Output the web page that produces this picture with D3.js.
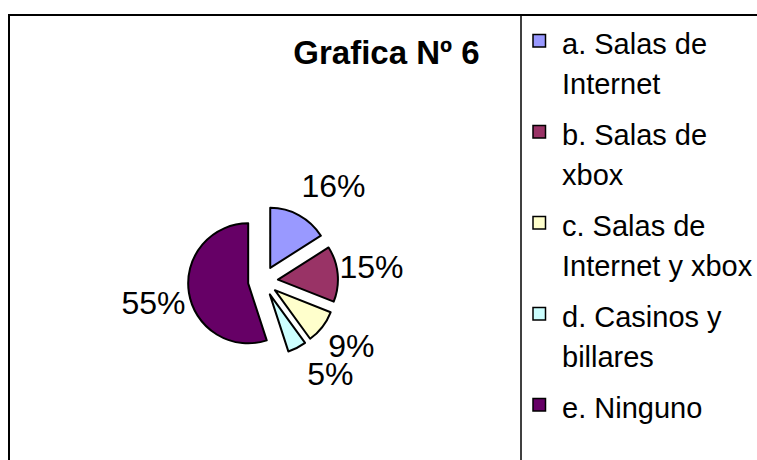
<!DOCTYPE html>
<html>
<head>
<meta charset="utf-8">
<script src="https://cdn.jsdelivr.net/npm/d3@7"></script>
<style>
  body { margin: 0; background: #fff; }
  svg { display: block; }
  text { font-family: "Liberation Sans", Arial, sans-serif; fill: #000; }
</style>
</head>
<body>
<div id="chart"></div>
<script>
// data
const categories = ["a. Salas de Internet", "b. Salas de xbox", "c. Salas de Internet y xbox", "d. Casinos y billares", "e. Ninguno"]
const legendLines = [["a. Salas de", "Internet"], ["b. Salas de", "xbox"], ["c. Salas de", "Internet y xbox"], ["d. Casinos y", "billares"], ["e. Ninguno"]]
const values = [16, 15, 9, 5, 55]
const valueLabels = ["16%", "15%", "9%", "5%", "55%"]
const title = "Grafica Nº 6"

const colors = ["#9999FF", "#993366", "#FFFFCC", "#CCFFFF", "#660066"]

const width = 757, height = 460
const center = {x: 263, y: 281}
const radius = 60
const explode = 15
const labelRadius = 113
// excel "best fit" moves some labels a bit off the mid angle
const labelNudge = [[16, 3], [-4, -4], [-1, -5], [16, -8], [2, 4]]

var svg = d3.select("#chart")
            .append("svg")
            .attr("width", width)
            .attr("height", height)

// frame + legend divider
svg.append("line").attr("x1", 8).attr("x2", width).attr("y1", 15).attr("y2", 15)
   .attr("stroke", "#000").attr("stroke-width", 2)
svg.append("line").attr("x1", 9).attr("x2", 9).attr("y1", 15).attr("y2", height)
   .attr("stroke", "#000").attr("stroke-width", 2)
svg.append("line").attr("x1", 521).attr("x2", 521).attr("y1", 15).attr("y2", height)
   .attr("stroke", "#000").attr("stroke-width", 1.5)

svg.append("text")
   .attr("x", 386.5)
   .attr("y", 64)
   .attr("text-anchor", "middle")
   .attr("font-size", 33)
   .attr("font-weight", "bold")
   .text(title)

const color = d3.scaleOrdinal().domain(categories).range(colors)

const pie = d3.pie().sort(null).value(d => d)
const arcs = pie(values)
const arc = d3.arc().innerRadius(0).outerRadius(radius)
const labelArc = d3.arc().innerRadius(labelRadius).outerRadius(labelRadius)

const midAngle = d => (d.startAngle + d.endAngle) / 2

var g = svg.append("g")
           .attr("transform", `translate(${center.x},${center.y})`)

g.selectAll(".slice")
  .data(arcs)
  .enter()
  .append("path")
  .attr("class", "slice")
  .attr("d", arc)
  .attr("transform", d => `translate(${Math.sin(midAngle(d)) * explode},${-Math.cos(midAngle(d)) * explode})`)
  .attr("fill", (d, i) => color(categories[i]))
  .attr("stroke", "#000")
  .attr("stroke-width", 2)
  .attr("stroke-linejoin", "round")

g.selectAll(".pct")
  .data(arcs)
  .enter()
  .append("text")
  .attr("class", "pct")
  .attr("x", (d, i) => labelArc.centroid(d)[0] + labelNudge[i][0])
  .attr("y", (d, i) => labelArc.centroid(d)[1] + labelNudge[i][1])
  .attr("dy", "0.36em")
  .attr("text-anchor", "middle")
  .attr("font-size", 32)
  .text((d, i) => valueLabels[i])

// legend
const lineStep = 39.5, itemGap = 51.5, firstBaseline = 54
let baseline = firstBaseline
const legendPos = legendLines.map(lines => {
  const y = baseline
  baseline += (lines.length - 1) * lineStep + itemGap
  return y
})

var legend = svg.selectAll(".legend")
  .data(categories)
  .enter()
  .append("g")
  .attr("class", "legend")
  .attr("transform", (d, i) => `translate(533,${legendPos[i]})`)

legend.append("rect")
  .attr("x", 0)
  .attr("y", -19.5)
  .attr("width", 12.5)
  .attr("height", 12.5)
  .attr("fill", d => color(d))
  .attr("stroke", "#000")
  .attr("stroke-width", 1.5)

legend.append("text")
  .attr("font-size", 29)
  .selectAll("tspan")
  .data((d, i) => legendLines[i])
  .enter()
  .append("tspan")
  .attr("x", 29)
  .attr("y", (d, j) => j * lineStep)
  .text(d => d)
</script>
</body>
</html>
